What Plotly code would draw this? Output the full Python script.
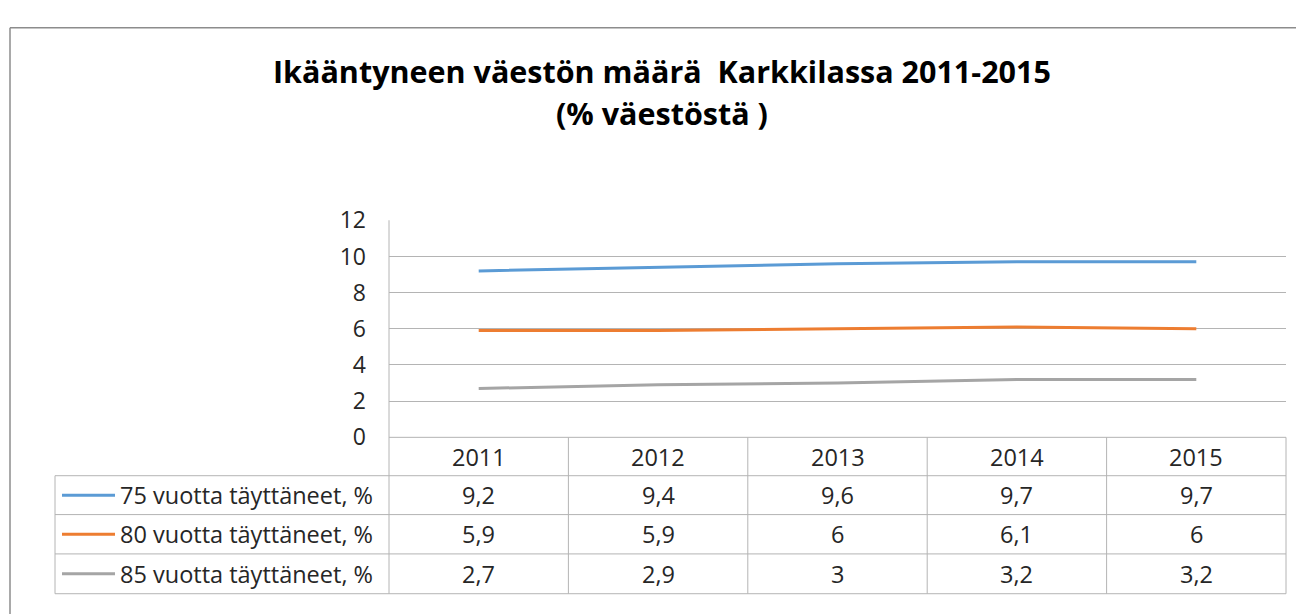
import plotly.graph_objects as go

years = ["2011", "2012", "2013", "2014", "2015"]
series_names = ["75 vuotta täyttäneet, %", "80 vuotta täyttäneet, %", "85 vuotta täyttäneet, %"]
s75 = [9.2, 9.4, 9.6, 9.7, 9.7]
s80 = [5.9, 5.9, 6, 6.1, 6]
s85 = [2.7, 2.9, 3, 3.2, 3.2]
colors = ["#5b9bd5", "#ed7d31", "#a5a5a5"]
yticks = [0, 2, 4, 6, 8, 10, 12]

W, H = 1304, 614
OFF = 8  # page body margin
FONT = "Open Sans"
GRID = "#b4b4b4"
TXT = "#262626"

# target screen-pixel geometry
PX0, PX1 = 389, 1286
PY_TOP, PY_BOT = 214, 443
ROW_B = [443, 483.5, 524.5, 566, 608]
LEG_X0 = 55

def px(x):
    return (x - OFF) / W

def py(y):
    return 1 - (y - OFF) / H

def fmt(v):
    return ("%g" % v).replace(".", ",")

xs = list(range(len(years)))
fig = go.Figure()
for name, vals, c in zip(series_names, [s75, s80, s85], colors):
    fig.add_trace(go.Scatter(x=xs, y=vals, mode="lines", name=name,
                             line=dict(color=c, width=3), showlegend=False,
                             hoverinfo="skip"))

shapes = []
annotations = []
line_style = dict(color=GRID, width=1)

# outer chart border (top and left)
shapes.append(dict(type="line", xref="paper", yref="paper", x0=px(10), x1=1.05, y0=py(11), y1=py(11), line=dict(color="#8c8c8c", width=1.5)))
shapes.append(dict(type="line", xref="paper", yref="paper", x0=px(10), x1=px(10), y0=py(11), y1=-0.05, line=dict(color="#8c8c8c", width=1.5)))

# left vertical axis line through table
shapes.append(dict(type="line", xref="paper", yref="paper", x0=px(PX0), x1=px(PX0), y0=py(PY_TOP), y1=py(ROW_B[-1]), line=line_style))
# right border of table
shapes.append(dict(type="line", xref="paper", yref="paper", x0=px(PX1), x1=px(PX1), y0=py(ROW_B[0]), y1=py(ROW_B[-1]), line=line_style))
# column separators
colw = (PX1 - PX0) / len(years)
for i in range(1, len(years)):
    xx = PX0 + i * colw
    shapes.append(dict(type="line", xref="paper", yref="paper", x0=px(xx), x1=px(xx), y0=py(ROW_B[0]), y1=py(ROW_B[-1]), line=line_style))
# horizontal row lines
for j, yb in enumerate(ROW_B):
    x0 = PX0 if j == 0 else LEG_X0
    shapes.append(dict(type="line", xref="paper", yref="paper", x0=px(x0), x1=px(PX1), y0=py(yb), y1=py(yb), line=line_style))
# left border of legend column
shapes.append(dict(type="line", xref="paper", yref="paper", x0=px(LEG_X0), x1=px(LEG_X0), y0=py(ROW_B[1]), y1=py(ROW_B[-1]), line=line_style))

TFS = 23.5
# header years
hy = (ROW_B[0] + ROW_B[1]) / 2
for i, yr in enumerate(years):
    annotations.append(dict(x=i, xref="x", y=py(hy), yref="paper", text=yr, showarrow=False,
                            font=dict(family=FONT, size=TFS, color=TXT), xanchor="center", yanchor="middle"))
# series rows
for r, (name, vals, c) in enumerate(zip(series_names, [s75, s80, s85], colors)):
    cy = (ROW_B[r + 1] + ROW_B[r + 2]) / 2
    shapes.append(dict(type="line", xref="paper", yref="paper", x0=px(62), x1=px(115), y0=py(cy), y1=py(cy), line=dict(color=c, width=3)))
    annotations.append(dict(x=px(375), xref="paper", y=py(cy), yref="paper", text=name, showarrow=False,
                            font=dict(family=FONT, size=TFS, color=TXT), xanchor="right", yanchor="middle"))
    for i, v in enumerate(vals):
        annotations.append(dict(x=i, xref="x", y=py(cy), yref="paper", text=fmt(v), showarrow=False,
                                font=dict(family=FONT, size=TFS, color=TXT), xanchor="center", yanchor="middle"))

# title
annotations.append(dict(x=px(662), xref="paper", y=py(57), yref="paper", text="<b>Ikääntyneen väestön määrä  Karkkilassa 2011-2015</b>",
                        showarrow=False, font=dict(family=FONT, size=30.5, color="#000000"), xanchor="center", yanchor="middle"))
annotations.append(dict(x=px(662), xref="paper", y=py(101), yref="paper", text="<b>(% väestöstä )</b>",
                        showarrow=False, font=dict(family=FONT, size=30.5, color="#000000"), xanchor="center", yanchor="middle"))

fig.update_layout(
    width=W, height=H,
    margin=dict(l=0, r=0, t=0, b=0),
    paper_bgcolor="white", plot_bgcolor="white",
    xaxis=dict(domain=[px(PX0), px(PX1)], range=[-0.5, len(years) - 0.5], showticklabels=False,
               showgrid=False, zeroline=False, showline=False, ticks=""),
    yaxis=dict(domain=[py(PY_BOT), py(PY_TOP)], range=[0, 12], tickvals=yticks,
               ticktext=[str(t) for t in yticks], showgrid=True, gridcolor=GRID, gridwidth=1,
               zeroline=False, showline=False, ticks="", ticklabelstandoff=22,
               tickfont=dict(family=FONT, size=23, color=TXT)),
    shapes=shapes, annotations=annotations,
)

fig.write_html("out.html")
